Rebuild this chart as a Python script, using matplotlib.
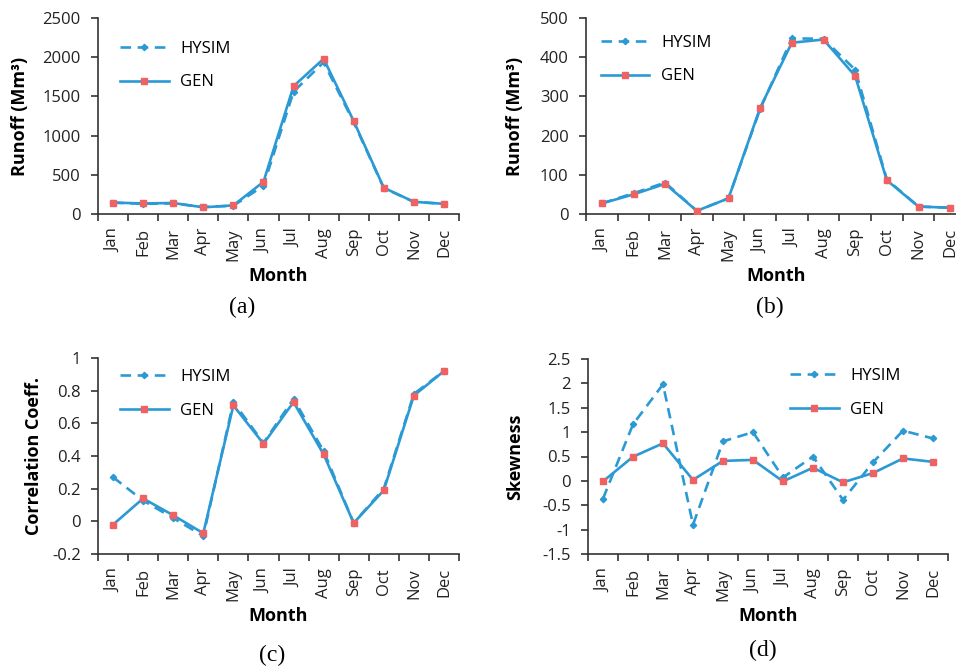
import matplotlib

matplotlib.use("Agg")
import matplotlib.pyplot as plt  # noqa: E402
import numpy as np

months = ["Jan", "Feb", "Mar", "Apr", "May", "Jun",
          "Jul", "Aug", "Sep", "Oct", "Nov", "Dec"]

# (a) runoff, Mm3
runoff_a_hysim = [145, 130, 135, 90, 105, 360, 1560, 1935, 1170, 330, 155, 130]
runoff_a_gen = [145, 135, 140, 85, 110, 410, 1630, 1980, 1185, 335, 155, 130]

# (b) runoff, Mm3
runoff_b_hysim = [27, 53, 80, 8, 40, 268, 448, 447, 368, 88, 19, 16]
runoff_b_gen = [27, 50, 77, 8, 40, 271, 437, 445, 352, 86, 19, 16]

# (c) correlation coefficient
corr_hysim = [0.27, 0.127, 0.02, -0.09, 0.73, 0.48, 0.75, 0.43, -0.01, 0.20, 0.78, 0.92]
corr_gen = [-0.02, 0.14, 0.037, -0.073, 0.71, 0.475, 0.73, 0.41, -0.01, 0.19, 0.77, 0.92]

# (d) skewness
skew_hysim = [-0.365, 1.16, 1.98, -0.90, 0.81, 1.0, 0.07, 0.50, -0.39, 0.38, 1.03, 0.87]
skew_gen = [-0.01, 0.495, 0.77, 0.02, 0.41, 0.43, -0.01, 0.27, -0.03, 0.16, 0.46, 0.39]

BLUE = "#2B9AD4"
RED = "#F06262"
AXC = "#333333"
TXT = "#222222"
SANS = "Open Sans"

W, H = 956, 667


def _box(l, t, r, b):
    return [l / W, 1 - b / H, (r - l) / W, (b - t) / H]


def panel(rect, hysim, gen, ylim, yticks, ylabel, ylab_px, caption, cap_xy,
          leg_xy):
    l, t, r, b = rect
    ax = fig.add_axes(_box(*rect))
    x = np.arange(len(months))
    ax.plot(x, hysim, color=BLUE, lw=1.9, dashes=(4, 2.5), marker="D",
            ms=3.2, mfc=BLUE, mec=BLUE, label="HYSIM", zorder=2)
    ax.plot(x, gen, color=BLUE, lw=1.9, marker="s", ms=5, mfc=RED,
            mec=RED, label="GEN", zorder=3)
    ax.set_xlim(-0.5, len(months) - 0.5)
    ax.set_ylim(*ylim)
    ax.set_yticks(yticks)
    ax.set_yticklabels(["%g" % v for v in yticks], fontsize=12,
                       family=SANS, color=TXT)
    ax.set_xticks(np.arange(-0.5, len(months), 1))
    ax.set_xticklabels([])
    ax.set_xticks(x, minor=True)
    ax.set_xticklabels(months, minor=True, rotation=90, fontsize=12,
                       family=SANS, color=TXT)
    ax.tick_params(axis="x", which="major", length=5, width=1.2,
                   color=AXC, direction="out")
    ax.tick_params(axis="x", which="minor", length=0, pad=10)
    ax.tick_params(axis="y", length=5, width=1.2, color=AXC, pad=7.5)
    for s in ("top", "right"):
        ax.spines[s].set_visible(False)
    for s in ("left", "bottom"):
        ax.spines[s].set_color(AXC)
        ax.spines[s].set_linewidth(1.2)
    ax.set_xlabel("Month", fontsize=13, fontweight="bold", family=SANS,
                  labelpad=5)
    ax.set_ylabel(ylabel, fontsize=13, fontweight="bold", family=SANS)
    ax.yaxis.set_label_coords((ylab_px - l) / (r - l), 0.5)
    ax.legend(loc="upper left", bbox_to_anchor=leg_xy, frameon=False,
              handlelength=2.9, labelspacing=1.05, handletextpad=0.7,
              prop={"family": SANS, "size": 12})
    fig.text(cap_xy[0] / W, 1 - cap_xy[1] / H, caption, ha="center",
             va="center", fontsize=17, family="Liberation Serif")
    return ax


fig = plt.figure(figsize=(W / 100, H / 100), dpi=100)

panel((98, 18, 459, 214), runoff_a_hysim, runoff_a_gen, (0, 2500),
      [0, 500, 1000, 1500, 2000, 2500], "Runoff (Mm³)", 29, "(a)",
      (242, 307), (0.02, 0.96))
panel((586, 18, 966, 214), runoff_b_hysim, runoff_b_gen, (0, 500),
      [0, 100, 200, 300, 400, 500], "Runoff (Mm³)", 524, "(b)",
      (770, 307), (0.0, 0.99))
panel((98, 358, 459, 554), corr_hysim, corr_gen, (-0.2, 1.0),
      [-0.2, 0, 0.2, 0.4, 0.6, 0.8, 1.0], "Correlation Coeff.", 43, "(c)",
      (272, 655), (0.02, 1.02))
panel((588, 359, 948, 554), skew_hysim, skew_gen, (-1.5, 2.5),
      [-1.5, -1, -0.5, 0, 0.5, 1, 1.5, 2, 2.5], "Skewness", 524, "(d)",
      (763, 650), (0.52, 1.03))

fig.savefig("out.png", dpi=100)
